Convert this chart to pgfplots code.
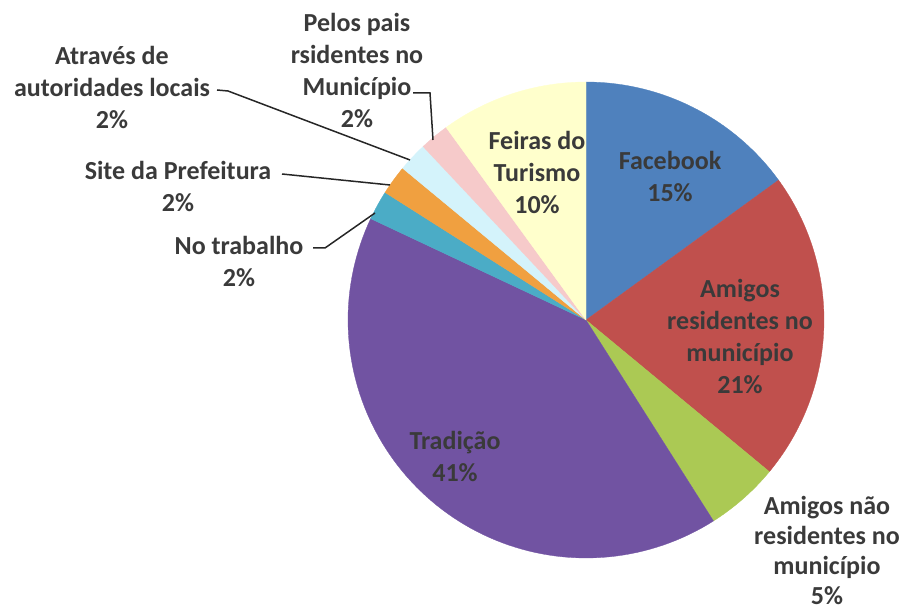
\documentclass[border=0pt]{standalone}
\usepackage{pgfplots}
\pgfplotsset{compat=1.18}
\usepackage{fontspec}
\setmainfont{Carlito}
\definecolor{cFb}{HTML}{4F81BD}
\definecolor{cAr}{HTML}{C0504D}
\definecolor{cAn}{HTML}{ABC954}
\definecolor{cTr}{HTML}{7153A2}
\definecolor{cNt}{HTML}{4BACC6}
\definecolor{cSp}{HTML}{F0A040}
\definecolor{cAu}{HTML}{D4F3FB}
\definecolor{cPp}{HTML}{F6CACA}
\definecolor{cFt}{HTML}{FFFFCC}
\definecolor{txt}{HTML}{3A3A3A}
\tikzset{lbl/.style={font=\fontsize{26}{32}\selectfont\bfseries, text=txt, align=center, inner sep=0pt}}
% slice: start cumulative %, end cumulative %, colour (clockwise from 12 o'clock)
\newcommand\slice[3]{%
  \addplot[fill=#3, draw=#3, line width=0.3pt, domain={90-3.6*(#2)}:{90-3.6*(#1)}, samples=90, variable=\t]
    ({586+238*cos(\t)},{320-238*sin(\t)}) -- (axis cs:586,320) -- cycle;}
\begin{document}
\begin{tikzpicture}
\begin{axis}[scale only axis, width=903pt, height=609pt,
  xmin=0, xmax=903, ymin=0, ymax=609, y dir=reverse,
  hide axis, clip=false]
% data (percent): Facebook 15, Amigos residentes 21, Amigos nao residentes 5,
% Tradicao 41, No trabalho 2, Site 2, Autoridades 2, Pais 2, Feiras 10
\slice{0}{15}{cFb}
\slice{15}{36}{cAr}
\slice{36}{41}{cAn}
\slice{41}{82}{cTr}
\slice{82}{84}{cNt}
\slice{84}{86}{cSp}
\slice{86}{88}{cAu}
\slice{88}{90}{cPp}
\slice{90}{100}{cFt}
% leader lines
\addplot[draw=black!85, line width=1.5pt] coordinates {(413,93) (430,93) (433,140)};
\addplot[draw=black!85, line width=1.5pt] coordinates {(217,90) (228,91) (410,160)};
\addplot[draw=black!85, line width=1.5pt] coordinates {(282,174) (390,185)};
\addplot[draw=black!85, line width=1.5pt] coordinates {(313,248) (325,248) (375,213)};
% labels
\node[lbl] at (axis cs:357,70) {Pelos pais\\rsidentes no\\Município\\2\%};
\node[lbl] at (axis cs:112,87) {Através de\\autoridades locais\\2\%};
\node[lbl] at (axis cs:178,186) {Site da Prefeitura\\2\%};
\node[lbl] at (axis cs:239,261) {No trabalho\\2\%};
\node[lbl] at (axis cs:537,172) {Feiras do\\Turismo\\10\%};
\node[lbl] at (axis cs:670,176) {Facebook\\15\%};
\node[lbl] at (axis cs:740,336) {Amigos\\residentes no\\município\\21\%};
\node[lbl, font=\fontsize{26}{30}\selectfont\bfseries] at (axis cs:827,550) {Amigos não\\residentes no\\município\\5\%};
\node[lbl] at (axis cs:455,456) {Tradição\\41\%};
\end{axis}
\pgfresetboundingbox
\path (current axis.south west) rectangle (current axis.north east);
\end{tikzpicture}
\end{document}
